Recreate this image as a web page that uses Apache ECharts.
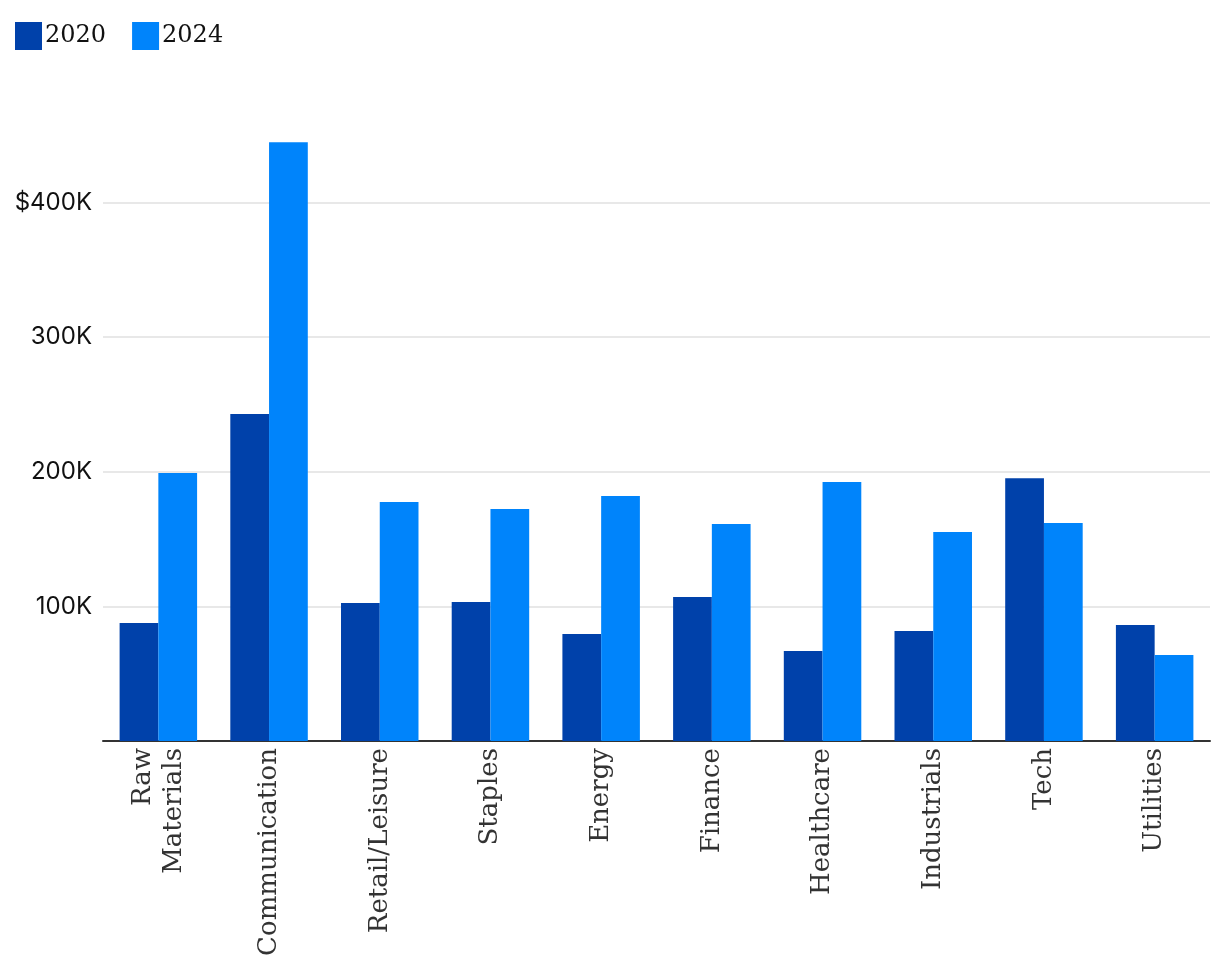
<!DOCTYPE html>
<html><head><meta charset="utf-8">
<script src="https://cdn.jsdelivr.net/npm/echarts@6/dist/echarts.min.js"></script>
<style>html,body{margin:0;padding:0;background:#fff}#c{width:1220px;height:980px}</style>
</head><body><div id="c"></div>
<script>
const categories = ['Raw\nMaterials','Communication','Retail/Leisure','Staples','Energy','Finance','Healthcare','Industrials','Tech','Utilities'];
const series2020 = [87600, 242800, 102400, 103200, 79400, 106900, 66800, 81700, 195200, 86100];
const series2024 = [199000, 444700, 177400, 172200, 181900, 161100, 192300, 155200, 161800, 63800];
const seriesNames = ['2020','2024'];

const chart = echarts.init(document.getElementById('c'), null, {renderer:'canvas'});
chart.setOption({
  animation:false,
  legend:{left:10, top:17, itemWidth:27, itemHeight:28, itemGap:26, icon:'rect',
    textStyle:{fontFamily:'DejaVu Serif', fontSize:24, color:'#111', padding:[0,0,0,-2]},
    data:seriesNames},
  grid:{left:103, right:10, top:135, bottom:239},
  xAxis:{type:'category', data:categories,
    axisLine:{lineStyle:{color:'#333', width:2}}, axisTick:{show:false},
    axisLabel:{rotate:90, interval:0, margin:7, fontFamily:'DejaVu Serif', fontSize:26, color:'#333', lineHeight:31}},
  yAxis:{type:'value', min:0, max:450000, interval:100000,
    axisLine:{show:false}, axisTick:{show:false},
    splitLine:{lineStyle:{color:'#e0e0e0', width:1.5}, showMinLine:false, showMaxLine:false},
    axisLabel:{margin:11, fontFamily:'Inter', fontSize:24, color:'#111',
      formatter:function(v){ if(v===0||v%100000!==0) return ''; var s=(v/1000)+'K'; return v===400000?'$'+s:s; }}},
  series:[
    {name:seriesNames[0], type:'bar', data:series2020, barWidth:'35%', barGap:'0%', itemStyle:{color:'#0041AA'}},
    {name:seriesNames[1], type:'bar', data:series2024, barWidth:'35%', barGap:'0%', itemStyle:{color:'#0084FB'}}
  ]
});
</script></body></html>
